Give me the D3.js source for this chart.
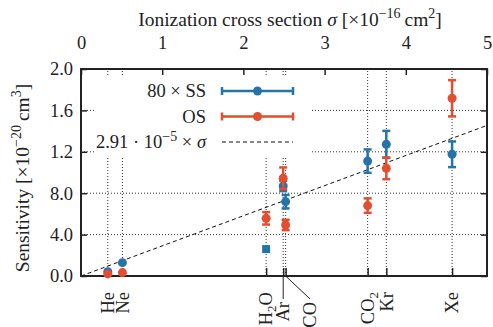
<!DOCTYPE html>
<html><head><meta charset="utf-8">
<script src="https://cdn.jsdelivr.net/npm/d3@7"></script>
<style>
body{margin:0;background:#fff}
svg text{font-family:'Liberation Serif','Tinos','Times New Roman','Times','Nimbus Roman','Nimbus Roman No9 L','FreeSerif','Noto Serif','DejaVu Serif',serif;fill:#222}
</style>
</head><body>
<svg id="c" width="493" height="327"></svg>
<script>
// ---- data ----
const gases   = ["He", "Ne", "H2O", "Ar", "CO", "CO2", "Kr", "Xe"];
const sigma   = [0.33, 0.51, 2.28, 2.49, 2.52, 3.53, 3.76, 4.57];
const ssVals  = [0.042, 0.129, 0.26, 0.87, 0.718, 1.11, 1.272, 1.176];
const ssErr   = [0, 0, 0, 0.05, 0.065, 0.113, 0.13, 0.124];
const ssShape = ["circle","circle","square","circle","circle","circle","circle","circle"];
const osVals  = [0.02, 0.033, 0.557, 0.944, 0.493, 0.68, 1.04, 1.717];
const osErr   = [0, 0, 0.06, 0.105, 0.05, 0.07, 0.105, 0.175];
const fitSlope = 0.291;
const topTicks = [0, 1, 2, 3, 4, 5];
const yTicks = [0, 0.4, 0.8, 1.2, 1.6, 2.0];
const yTickLabels = ["0.0", "4.0", "8.0", "1.2", "1.6", "2.0"];

const BLUE = "#2474a9", RED = "#e24e2f", INK = "#222";
const FS = 18.5, SFS = 14, TFS = 19.5;

const svg = d3.select("#c");
const x = d3.scaleLinear().domain([0, 5]).range([81, 487]);
const y = d3.scaleLinear().domain([0, 2]).range([276, 69]);

// gridlines
const grid = svg.append("g").attr("stroke", "#333").attr("stroke-width", 1).attr("stroke-dasharray", "1,2");
grid.selectAll("line.h").data(yTicks.slice(1, -1)).join("line")
  .attr("x1", x(0)).attr("x2", x(5)).attr("y1", d => y(d)).attr("y2", d => y(d));
grid.selectAll("line.v").data(sigma).join("line")
  .attr("x1", d => x(d)).attr("x2", d => x(d)).attr("y1", y(0)).attr("y2", y(2));

// fit line
svg.append("line")
  .attr("x1", x(0)).attr("y1", y(0)).attr("x2", x(5)).attr("y2", y(fitSlope * 5))
  .attr("stroke", "#111").attr("stroke-width", 1).attr("stroke-dasharray", "4,3");

// legend background
svg.append("rect").attr("x", 96).attr("y", 77).attr("width", 214).attr("height", 79).attr("fill", "#fff");

// axes
function styleAxis(g) {
  g.attr("font-family", null);
  g.select(".domain").remove();
  g.selectAll(".tick line").attr("stroke", INK).attr("stroke-width", 1.5);
  g.selectAll(".tick text").attr("font-size", FS).attr("fill", INK);
}
svg.append("g").attr("transform", `translate(0,${y(2)})`)
  .call(d3.axisTop(x).tickValues(topTicks).tickFormat(d3.format("d")).tickSize(-6).tickPadding(20))
  .call(styleAxis);
svg.append("g").attr("transform", `translate(${x(0)},0)`)
  .call(d3.axisLeft(y).tickValues(yTicks).tickFormat((d, i) => yTickLabels[i]).tickSize(-6).tickPadding(8))
  .call(styleAxis);
svg.append("g").attr("transform", `translate(${x(5)},0)`)
  .call(d3.axisRight(y).tickValues(yTicks).tickFormat("").tickSize(-6))
  .call(styleAxis);
svg.append("g").attr("transform", `translate(0,${y(0)})`)
  .call(d3.axisBottom(x).tickValues(sigma).tickFormat("").tickSize(-8))
  .call(styleAxis);

// frame
svg.append("rect").attr("x", x(0)).attr("y", y(2)).attr("width", x(5) - x(0)).attr("height", y(0) - y(2))
  .attr("fill", "none").attr("stroke", INK).attr("stroke-width", 2);

// bottom labels
const leader = { Ar: 0, CO: 24.5 };
const lab = svg.append("g");
gases.forEach((gname, i) => {
  const tx = x(sigma[i]);
  let lx = tx, ly = 292;
  if (gname in leader) {
    lx = tx + leader[gname];
    ly = 302;
    lab.append("line").attr("x1", tx).attr("y1", y(0)).attr("x2", lx).attr("y2", 299)
      .attr("stroke", INK).attr("stroke-width", 1);
  }
  const t = lab.append("text").attr("transform", `translate(${lx},${ly}) rotate(-90)`)
    .attr("text-anchor", "end").attr("dy", "0.34em").attr("font-size", FS);
  const parts = gname.replace(/(\d)/, "|$1|").split("|");
  if (parts.length === 3) {
    t.append("tspan").text(parts[0]);
    t.append("tspan").attr("dy", 4).attr("font-size", 13).text(parts[1]);
    t.append("tspan").attr("dy", -4).text(parts[2]);
  } else t.text(gname);
});

// error bars + markers
function drawSeries(vals, errs, color, shapes) {
  const g = svg.append("g");
  vals.forEach((v, i) => {
    const cx = x(sigma[i]), e = errs[i];
    if (e > 0) {
      g.append("line").attr("x1", cx).attr("x2", cx).attr("y1", y(v - e)).attr("y2", y(v + e))
        .attr("stroke", color).attr("stroke-width", 2.5);
      [v - e, v + e].forEach(c => g.append("line").attr("x1", cx - 4).attr("x2", cx + 4)
        .attr("y1", y(c)).attr("y2", y(c)).attr("stroke", color).attr("stroke-width", 2.5));
    }
    if (shapes && shapes[i] === "square") {
      g.append("rect").attr("x", cx - 4).attr("y", y(v) - 4).attr("width", 8).attr("height", 8).attr("fill", color);
    } else {
      g.append("circle").attr("cx", cx).attr("cy", y(v)).attr("r", 4.5).attr("fill", color);
    }
  });
}
drawSeries(ssVals, ssErr, BLUE, ssShape);
drawSeries(osVals, osErr, RED, null);

// legend
const lg = svg.append("g");
function legendErr(yy, color) {
  lg.append("line").attr("x1", 222).attr("x2", 293).attr("y1", yy).attr("y2", yy).attr("stroke", color).attr("stroke-width", 2.5);
  [222, 293].forEach(xx => lg.append("line").attr("x1", xx).attr("x2", xx).attr("y1", yy - 4).attr("y2", yy + 4).attr("stroke", color).attr("stroke-width", 2.5));
  lg.append("circle").attr("cx", 257.5).attr("cy", yy).attr("r", 4.5).attr("fill", color);
}
legendErr(91, BLUE);
legendErr(116.5, RED);
lg.append("line").attr("x1", 222).attr("x2", 293).attr("y1", 142).attr("y2", 142)
  .attr("stroke", "#111").attr("stroke-width", 1).attr("stroke-dasharray", "4,3");
lg.append("text").attr("x", 206).attr("y", 97).attr("text-anchor", "end").attr("font-size", FS).text("80 × SS");
lg.append("text").attr("x", 206).attr("y", 122.5).attr("text-anchor", "end").attr("font-size", FS).text("OS");
const ft = lg.append("text").attr("x", 206).attr("y", 148).attr("text-anchor", "end").attr("font-size", FS);
ft.append("tspan").text("2.91 · 10");
ft.append("tspan").attr("dy", -7).attr("font-size", SFS).text("−5");
ft.append("tspan").attr("dy", 7).text(" × ");
ft.append("tspan").attr("font-style", "italic").text("σ");

// title
const tt = svg.append("text").attr("x", 290).attr("y", 26).attr("text-anchor", "middle").attr("font-size", TFS);
tt.append("tspan").text("Ionization cross section ");
tt.append("tspan").attr("font-style", "italic").text("σ");
tt.append("tspan").text(" [×10");
tt.append("tspan").attr("dy", -8).attr("font-size", SFS).text("−16");
tt.append("tspan").attr("dy", 8).text("\u2009cm");
tt.append("tspan").attr("dy", -8).attr("font-size", SFS).text("2");
tt.append("tspan").attr("dy", 8).text("]");

// y label
const yl = svg.append("text").attr("transform", "translate(29,178) rotate(-90)").attr("text-anchor", "middle").attr("font-size", TFS);
yl.append("tspan").text("Sensitivity [×10");
yl.append("tspan").attr("dy", -8).attr("font-size", SFS).text("−20");
yl.append("tspan").attr("dy", 8).text("\u2009cm");
yl.append("tspan").attr("dy", -8).attr("font-size", SFS).text("3");
yl.append("tspan").attr("dy", 8).text("]");
</script>
</body></html>
